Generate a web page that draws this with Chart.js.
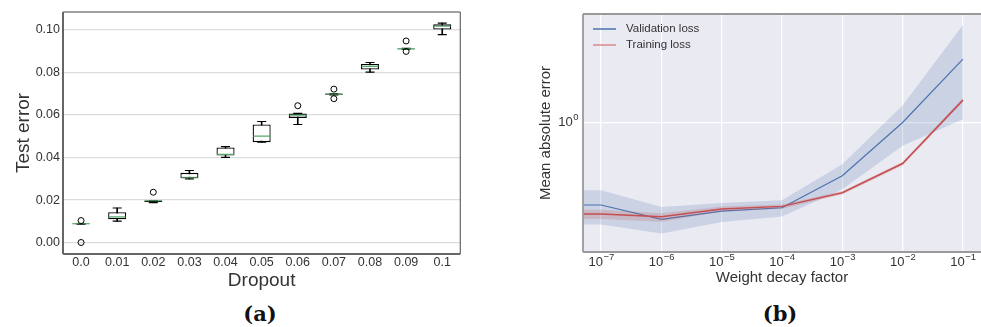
<!DOCTYPE html>
<html>
<head>
<meta charset="utf-8">
<script src="https://cdn.jsdelivr.net/npm/chart.js@4.4.1/dist/chart.umd.min.js"></script>
<style>
  html, body { margin: 0; padding: 0; background: #fff; width: 981px; height: 327px; overflow: hidden; }
  #boxWrap { position: absolute; left: 0; top: 0; width: 470px; height: 300px; }
  #decayWrap { position: absolute; left: 470px; top: 0; width: 511px; height: 300px; }
  .panel { position: absolute; top: 301px; font: bold 21px 'DejaVu Serif', serif; color: #111;
           transform: translateX(-50%); line-height: 26px; white-space: nowrap; }
</style>
</head>
<body>
<div id="boxWrap"><canvas id="boxChart"></canvas></div>
<div id="decayWrap"><canvas id="decayChart"></canvas></div>
<div class="panel" style="left:260px">(a)</div>
<div class="panel" style="left:780px">(b)</div>

<script>
// ---- (a) test error vs dropout: box plot statistics per dropout rate ----
const dropoutRates  = ['0.0', '0.01', '0.02', '0.03', '0.04', '0.05', '0.06', '0.07', '0.08', '0.09', '0.1'];
const whiskerLow    = [0.0087, 0.0101, 0.0188, 0.0300, 0.0401, 0.0472, 0.0555, 0.0694, 0.0801, 0.0908, 0.0977];
const quartileLow   = [0.0087, 0.0110, 0.0191, 0.0303, 0.0409, 0.0472, 0.0586, 0.0694, 0.0813, 0.0908, 0.1001];
const medians       = [0.0089, 0.0121, 0.0197, 0.0305, 0.0415, 0.0500, 0.0599, 0.0698, 0.0828, 0.0910, 0.1016];
const quartileHigh  = [0.0090, 0.0143, 0.0198, 0.0328, 0.0447, 0.0555, 0.0606, 0.0700, 0.0839, 0.0912, 0.1025];
const whiskerHigh   = [0.0090, 0.0163, 0.0198, 0.0339, 0.0451, 0.0569, 0.0607, 0.0700, 0.0846, 0.0912, 0.1031];
const outliersUpper = [0.0104, null, 0.0237, null, null, null, 0.0643, 0.0721, null, 0.0947, null];
const outliersLower = [0.0001, null, null, null, null, null, null, 0.0676, null, 0.0898, null];
const errorTicks    = [0.00, 0.02, 0.04, 0.06, 0.08, 0.10];

// ---- (b) mean absolute error vs weight decay factor ----
const decayFactors = [0, 1e-7, 1e-6, 1e-5, 1e-4, 1e-3, 1e-2, 1e-1];
const valMean   = [0.422, 0.422, 0.363, 0.396, 0.410, 0.573, 1.000, 1.940];
const valLow    = [0.345, 0.344, 0.313, 0.353, 0.374, 0.498, 0.783, 1.035];
const valHigh   = [0.496, 0.492, 0.413, 0.431, 0.443, 0.646, 1.195, 2.770];
const trainMean = [0.384, 0.384, 0.373, 0.405, 0.416, 0.480, 0.651, 1.263];
const trainLow  = [0.365, 0.365, 0.354, 0.394, 0.406, 0.471, 0.638, 1.237];
const trainHigh = [0.402, 0.402, 0.387, 0.416, 0.424, 0.488, 0.663, 1.290];
const decayTicks = [1e-7, 1e-6, 1e-5, 1e-4, 1e-3, 1e-2, 1e-1];
const maeTicks   = [1];

// a log axis cannot hold 0, so "no decay" is drawn far off to the left
const NO_DECAY_AT = 1e-12;

const SANS = "'Liberation Sans', 'DejaVu Sans', sans-serif";
const TEXT = '#333';

// background of the plotting area
const areaFill = {
  id: 'areaFill',
  beforeDraw(chart, args, opts) {
    if (!opts.color) return;
    const { ctx, chartArea: a } = chart;
    ctx.save();
    ctx.fillStyle = opts.color;
    ctx.fillRect(a.left, a.top, a.right - a.left, a.bottom - a.top);
    ctx.restore();
  }
};

// axes frame, each side with its own colour and width
const frame = {
  id: 'frame',
  afterDatasetsDraw(chart, args, opts) {
    const { ctx, chartArea: a } = chart;
    const sides = {
      top:    [a.left, a.top, a.right, a.top],
      bottom: [a.left, a.bottom, a.right, a.bottom],
      left:   [a.left, a.top, a.left, a.bottom],
      right:  [a.right, a.top, a.right, a.bottom]
    };
    ctx.save();
    for (const k of Object.keys(sides)) {
      const s = opts[k];
      if (!s) continue;
      const [x1, y1, x2, y2] = sides[k];
      ctx.strokeStyle = s.color;
      ctx.lineWidth = s.width;
      ctx.beginPath();
      ctx.moveTo(x1, y1);
      ctx.lineTo(x2, y2);
      ctx.stroke();
    }
    ctx.restore();
  }
};

// powers of ten written as "10" with a raised exponent, at the scale's tick positions
const powerTicks = {
  id: 'powerTicks',
  afterDraw(chart, args, opts) {
    const { ctx, scales, chartArea: a } = chart;
    const base = opts.size + 'px ' + SANS;
    const small = opts.supSize + 'px ' + SANS;
    ctx.save();
    ctx.fillStyle = TEXT;
    ctx.textBaseline = 'middle';
    ctx.textAlign = 'left';
    for (const id of ['x', 'y']) {
      const s = scales[id];
      for (const t of s.ticks) {
        const e = Math.round(Math.log10(t.value));
        const exp = e < 0 ? '\u2212' + (-e) : String(e);
        ctx.font = base;
        const w1 = ctx.measureText('10').width;
        ctx.font = small;
        const w2 = ctx.measureText(exp).width;
        let x0, y;
        if (id === 'x') {
          x0 = s.getPixelForValue(t.value) - (w1 + w2) / 2;
          y = a.bottom + opts.xGap;
        } else {
          x0 = a.left - opts.yGap - (w1 + w2);
          y = s.getPixelForValue(t.value);
        }
        ctx.font = base;
        ctx.fillText('10', x0, y);
        ctx.font = small;
        ctx.fillText(exp, x0 + w1 + 0.5, y - opts.raise);
      }
    }
    ctx.restore();
  }
};

// small line legend placed inside the top-left of the plotting area
const insideLegend = {
  id: 'insideLegend',
  afterDatasetsDraw(chart, args, opts) {
    const { ctx, chartArea: a } = chart;
    const items = chart.data.datasets.filter(d => d.label);
    ctx.save();
    ctx.font = opts.fontSize + 'px ' + SANS;
    ctx.textBaseline = 'middle';
    ctx.textAlign = 'left';
    items.forEach((d, i) => {
      const y = a.top + opts.firstRow + i * opts.rowGap;
      const x = a.left + opts.inset;
      ctx.strokeStyle = d.legendColor || d.borderColor;
      ctx.lineWidth = 1.5;
      ctx.beginPath();
      ctx.moveTo(x, y);
      ctx.lineTo(x + opts.lineLength, y);
      ctx.stroke();
      ctx.fillStyle = TEXT;
      ctx.fillText(d.label, x + opts.lineLength + opts.gap, y);
    });
    ctx.restore();
  }
};

// ---------------- (a) box plot ----------------
const pointRow = (values, style) => Object.assign({
  type: 'line',
  data: values,
  showLine: false,
  pointBackgroundColor: 'rgba(0,0,0,0)',
  pointHoverRadius: 0
}, style);

new Chart(document.getElementById('boxChart'), {
  type: 'bar',
  data: {
    labels: dropoutRates,
    datasets: [
      { // whisker stems
        data: whiskerLow.map((lo, i) => [lo, whiskerHigh[i]]),
        backgroundColor: '#000', borderWidth: 0, barThickness: 1, grouped: false, order: 6
      },
      { // interquartile boxes
        data: quartileLow.map((lo, i) => [lo, quartileHigh[i]]),
        backgroundColor: '#fff', borderColor: '#000', borderWidth: 1.3, borderSkipped: false,
        barPercentage: 0.5, categoryPercentage: 1, grouped: false, order: 5
      },
      pointRow(whiskerLow,  { pointStyle: 'line', pointRadius: 4.5, pointBorderColor: '#000', pointBorderWidth: 1.2, order: 4 }),
      pointRow(whiskerHigh, { pointStyle: 'line', pointRadius: 4.5, pointBorderColor: '#000', pointBorderWidth: 1.2, order: 4 }),
      pointRow(medians,     { pointStyle: 'line', pointRadius: 8.5, pointBorderColor: '#55A868', pointBorderWidth: 1.2, order: 3 }),
      pointRow(outliersUpper, { pointStyle: 'circle', pointRadius: 3, pointBorderColor: '#000', pointBorderWidth: 1, order: 2 }),
      pointRow(outliersLower, { pointStyle: 'circle', pointRadius: 3, pointBorderColor: '#000', pointBorderWidth: 1, order: 2 })
    ]
  },
  options: {
    responsive: true,
    maintainAspectRatio: false,
    animation: false,
    events: [],
    layout: { padding: { top: 12, right: 9, left: 0, bottom: 0 } },
    plugins: {
      legend: { display: false },
      tooltip: { enabled: false },
      frame: {
        top:    { color: '#444', width: 1 },
        right:  { color: '#666', width: 1.2 },
        left:   { color: '#666', width: 2 },
        bottom: { color: '#666', width: 2 }
      }
    },
    scales: {
      x: {
        type: 'category',
        offset: true,
        grid: { display: false, drawTicks: false },
        border: { display: false },
        ticks: { color: TEXT, font: { family: SANS, size: 12.5 }, padding: 1, maxRotation: 0, autoSkip: false },
        title: { display: true, text: 'Dropout', color: TEXT, font: { family: SANS, size: 19 }, padding: { top: 0, bottom: 8 } },
        afterFit(s) { s.height = 46; }
      },
      y: {
        type: 'linear',
        min: -0.0053,
        max: 0.1083,
        afterBuildTicks(s) { s.ticks = errorTicks.map(v => ({ value: v })); },
        grid: { color: '#dcdcdc', lineWidth: 1.3, drawTicks: false },
        border: { display: false },
        ticks: { color: TEXT, font: { family: SANS, size: 12.5 }, padding: 3, callback: v => Number(v).toFixed(2) },
        title: { display: true, text: 'Test error', color: TEXT, font: { family: SANS, size: 19 }, padding: { top: 12, bottom: 0 } },
        afterFit(s) { s.width = 63; }
      }
    }
  },
  plugins: [frame]
});

// ---------------- (b) loss vs weight decay ----------------
const decayX = d => (d > 0 ? d : NO_DECAY_AT);
const series = values => decayFactors.map((d, i) => ({ x: decayX(d), y: values[i] }));
const band = (values, extra) => Object.assign({
  data: series(values), borderWidth: 0, pointRadius: 0, tension: 0
}, extra);

new Chart(document.getElementById('decayChart'), {
  type: 'line',
  data: {
    datasets: [
      band(valLow,  { fill: false, order: 4 }),
      band(valHigh, { fill: '-1', backgroundColor: 'rgba(76,114,176,0.2)', order: 4 }),
      { label: 'Validation loss', data: series(valMean), borderColor: '#4C72B0', borderWidth: 1.2,
        pointRadius: 0, tension: 0, fill: false, order: 3 },
      band(trainLow,  { fill: false, order: 2 }),
      band(trainHigh, { fill: '-1', backgroundColor: 'rgba(196,78,82,0.2)', order: 2 }),
      { label: 'Training loss', data: series(trainMean), borderColor: '#C44E52', borderWidth: 1.5,
        legendColor: '#D98A8D', pointRadius: 0, tension: 0, fill: false, order: 1 }
    ]
  },
  options: {
    responsive: true,
    maintainAspectRatio: false,
    animation: false,
    events: [],
    layout: { padding: { top: 14, right: 0, left: 0, bottom: 0 } },
    plugins: {
      legend: { display: false },
      tooltip: { enabled: false },
      areaFill: { color: '#EAEAF2' },
      insideLegend: { fontSize: 11.5, inset: 10, lineLength: 23, gap: 10, firstRow: 15, rowGap: 16 },
      powerTicks: { size: 13, supSize: 9.5, raise: 5, xGap: 10.5, yGap: 5 },
      frame: {
        top:    { color: '#9a9a9a', width: 1.8 },
        left:   { color: '#9a9a9a', width: 1.8 },
        bottom: { color: '#9a9a9a', width: 1.8 }
      }
    },
    scales: {
      x: {
        type: 'logarithmic',
        min: Math.pow(10, -7.3),
        max: Math.pow(10, -0.7),
        afterBuildTicks(s) { s.ticks = decayTicks.map(v => ({ value: v })); },
        grid: { color: '#ffffff', lineWidth: 1.2, drawTicks: false },
        border: { display: false },
        ticks: { display: false },
        title: { display: true, text: 'Weight decay factor', color: TEXT, font: { family: SANS, size: 15 },
                 padding: { top: 0, bottom: 13 } },
        afterFit(s) { s.height = 48; }
      },
      y: {
        type: 'logarithmic',
        min: Math.pow(10, -0.588),
        max: Math.pow(10, 0.4923),
        afterBuildTicks(s) { s.ticks = maeTicks.map(v => ({ value: v })); },
        grid: { color: '#ffffff', lineWidth: 1.2, drawTicks: false },
        border: { display: false },
        ticks: { display: false },
        title: { display: true, text: 'Mean absolute error', color: TEXT, font: { family: SANS, size: 15 },
                 padding: { top: 67, bottom: 0 } },
        afterFit(s) { s.width = 113; }
      }
    }
  },
  plugins: [areaFill, frame, powerTicks, insideLegend]
});
</script>
</body>
</html>
